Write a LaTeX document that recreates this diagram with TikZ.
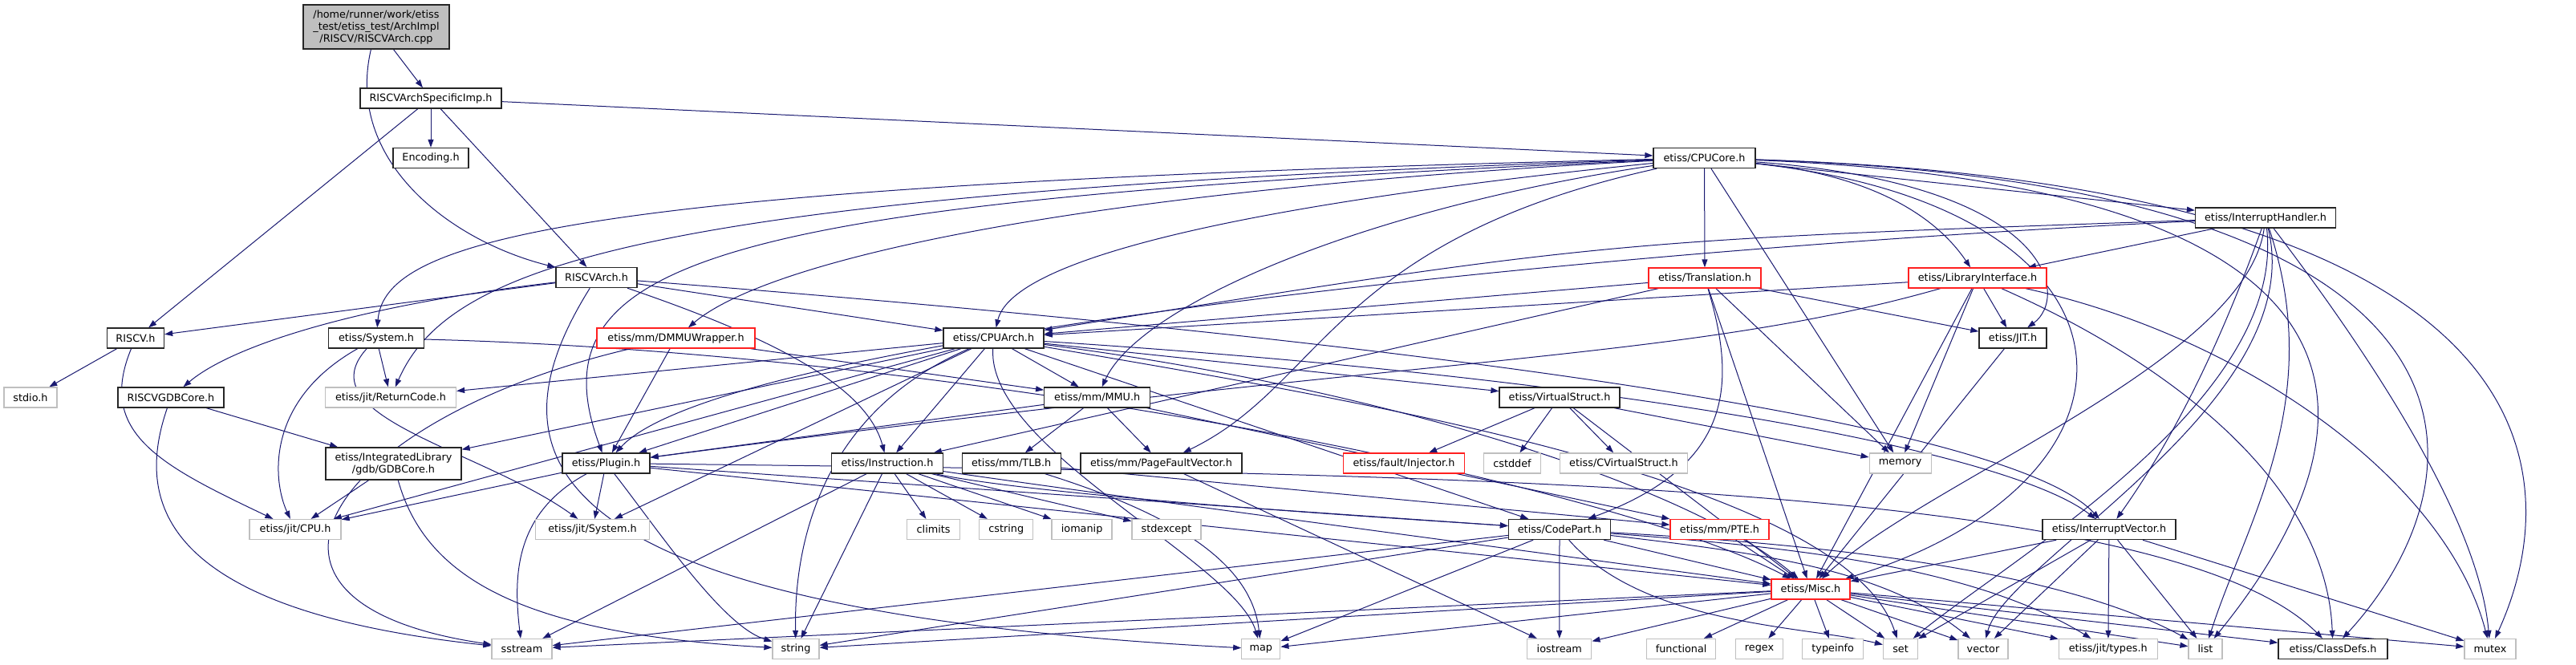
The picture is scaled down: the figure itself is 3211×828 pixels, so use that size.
\documentclass[tikz,border=0pt]{standalone}
\usepackage{fontspec}
\newfontfamily\dv{DejaVu Sans}
\usetikzlibrary{arrows.meta}
\definecolor{edgec}{HTML}{191970}
\definecolor{extc}{HTML}{BFBFBF}
\definecolor{truncc}{HTML}{FF2020}
\pgfdeclarelayer{bg}
\pgfsetlayers{bg,main}
\tikzset{
  box/.style={draw=black!85, line width=1.3pt, fill=white, inner sep=0pt, minimum height=25pt, font=\dv\fontsize{12.8}{15}\selectfont, align=center},
  ext/.style={box, draw=extc},
  trunc/.style={box, draw=truncc},
  e/.style={draw=edgec, line width=1pt, -{Triangle[length=10pt,width=7pt]}},
}
\begin{document}
\begin{tikzpicture}[x=1pt,y=-1pt]
\useasboundingbox (0,0) rectangle (3211,828);
% nodes
\node[box, fill=extc, minimum width=182pt, minimum height=55pt] (root) at (469,33.5) {/home/runner/work/etiss\\\_test/etiss\_test/ArchImpl\\/RISCV/RISCVArch.cpp};
\node[box, minimum width=176pt] (spec) at (537,122.5) {RISCVArchSpecificImp.h};
\node[box, minimum width=94pt] (enc) at (537,197) {Encoding.h};
\node[box, minimum width=127pt] (cpucore) at (2124.5,197) {etiss/CPUCore.h};
\node[box, minimum width=175pt] (ih) at (2824,271.5) {etiss/InterruptHandler.h};
\node[box, minimum width=101pt] (rarch) at (743.5,346) {RISCVArch.h};
\node[box, minimum width=71pt] (riscv) at (169,421.5) {RISCV.h};
\node[box, minimum width=119pt] (sys) at (469,421.5) {etiss/System.h};
\node[ext, minimum width=66pt] (stdio) at (38,495.5) {stdio.h};
\node[box, minimum width=132pt] (rgdb) at (213,495.5) {RISCVGDBCore.h};
\node[ext, minimum width=163pt] (retc) at (487,495.5) {etiss/jit/ReturnCode.h};
\node[trunc, minimum width=197pt] (dmmu) at (842.5,421.5) {etiss/mm/DMMUWrapper.h};
\node[box, minimum width=125pt] (cpuarch) at (1238.5,421.5) {etiss/CPUArch.h};
\node[box, minimum width=132pt] (mmu) at (1367.7,495.5) {etiss/mm/MMU.h};
\node[trunc, minimum width=140pt] (trans) at (2125,346.5) {etiss/Translation.h};
\node[box, minimum width=150pt] (vstruct) at (1944,495.5) {etiss/VirtualStruct.h};
\node[trunc, minimum width=172pt] (libif) at (2465,346.5) {etiss/LibraryInterface.h};
\node[box, minimum width=84pt] (jit) at (2509,421.5) {etiss/JIT.h};
\node[box, minimum width=169pt, minimum height=40pt] (gdbcore) at (490.5,578) {etiss/IntegratedLibrary\\/gdb/GDBCore.h};
\node[ext, minimum width=114pt] (jitcpu) at (368,660) {etiss/jit/CPU.h};
\node[box, minimum width=109pt] (plugin) at (755.5,577.5) {etiss/Plugin.h};
\node[ext, minimum width=142pt] (jitsys) at (738.5,660) {etiss/jit/System.h};
\node[ext, minimum width=75pt] (sstream) at (650.5,809) {sstream};
\node[box, minimum width=139pt] (instr) at (1106,577.5) {etiss/Instruction.h};
\node[box, minimum width=123pt] (tlb) at (1260.7,577.5) {etiss/mm/TLB.h};
\node[box, minimum width=201pt] (pfv) at (1447.5,577.5) {etiss/mm/PageFaultVector.h};
\node[ext, minimum width=66pt] (climits) at (1163.6,660) {climits};
\node[ext, minimum width=67pt] (cstring) at (1254.3,660) {cstring};
\node[ext, minimum width=75pt] (iomanip) at (1348.6,660) {iomanip};
\node[ext, minimum width=86pt] (stdexcept) at (1454,660) {stdexcept};
\node[ext, minimum width=58pt] (string) at (992,809) {string};
\node[ext, minimum width=48pt] (map) at (1571.8,809) {map};
\node[trunc, minimum width=151pt] (injector) at (1750,577.5) {etiss/fault/Injector.h};
\node[ext, minimum width=71pt] (cstddef) at (1885,577.5) {cstddef};
\node[ext, minimum width=159pt] (cvs) at (2024,577.5) {etiss/CVirtualStruct.h};
\node[ext, minimum width=77pt] (memory) at (2368.7,577.5) {memory};
\node[box, minimum width=127pt] (codepart) at (1944,660) {etiss/CodePart.h};
\node[trunc, minimum width=123pt] (pte) at (2143.5,660) {etiss/mm/PTE.h};
\node[trunc, minimum width=98pt] (misc) at (2257,734.5) {etiss/Misc.h};
\node[ext, minimum width=80pt] (iostream) at (1943.8,809) {iostream};
\node[ext, minimum width=86pt] (functional) at (2095.6,809) {functional};
\node[ext, minimum width=59pt] (regex) at (2193,809) {regex};
\node[ext, minimum width=76pt] (typeinfo) at (2284.7,809) {typeinfo};
\node[ext, minimum width=43pt] (set) at (2369,809) {set};
\node[box, minimum width=166pt] (ivec) at (2629,660) {etiss/InterruptVector.h};
\node[ext, minimum width=62pt] (vector) at (2472,809) {vector};
\node[ext, minimum width=123pt] (types) at (2627.8,809) {etiss/jit/types.h};
\node[ext, minimum width=42pt] (list) at (2749,809) {list};
\node[box, minimum width=136pt] (classdefs) at (2908,809) {etiss/ClassDefs.h};
\node[ext, minimum width=64pt] (mutex) at (3104,809) {mutex};
% edges
\begin{pgfonlayer}{bg}
\draw[e] (root) -- (spec);
\draw[e] (root) .. controls (430,200) and (560,300) .. (rarch);
\draw[e] (spec) -- (enc);
\draw[e] (spec) -- (cpucore);
\draw[e] (spec) -- (riscv);
\draw[e] (spec) -- (rarch);
% RISCVArch
\draw[e] (rarch) -- (riscv);
\draw[e] (rarch) .. controls (450,380) and (290,430) .. (rgdb);
\draw[e] (rarch) -- (cpuarch);
\draw[e] (rarch) .. controls (960,420) and (1080,480) .. (instr);
\draw[e] (rarch) .. controls (1700,420) and (2500,520) .. (ivec);
\draw[e] (rarch) .. controls (610,560) and (640,760) .. (map);
\draw[e] (riscv) -- (stdio);
\draw[e] (riscv) .. controls (120,540) and (200,580) .. (jitcpu);
\draw[e] (rgdb) -- (gdbcore);
\draw[e] (rgdb) .. controls (170,620) and (190,760) .. (sstream);
% CPUCore
\draw[e] (cpucore) .. controls (700,230) and (480,300) .. (sys);
\draw[e] (cpucore) .. controls (800,240) and (560,330) .. (retc);
\draw[e] (cpucore) .. controls (900,250) and (660,320) .. (plugin);
\draw[e] (cpucore) .. controls (1500,260) and (1260,330) .. (cpuarch);
\draw[e] (cpucore) .. controls (1300,240) and (950,330) .. (dmmu);
\draw[e] (cpucore) .. controls (1700,260) and (1420,380) .. (mmu);
\draw[e] (cpucore) .. controls (1660,300) and (1650,480) .. (pfv);
\draw[e] (cpucore) -- (trans);
\draw[e] (cpucore) -- (memory);
\draw[e] (cpucore) .. controls (2350,220) and (2420,280) .. (libif);
\draw[e] (cpucore) .. controls (2560,230) and (2580,370) .. (jit);
\draw[e] (cpucore) .. controls (2700,260) and (2700,600) .. (misc);
\draw[e] (cpucore) -- (ih);
\draw[e] (cpucore) .. controls (2950,230) and (3000,500) .. (list);
\draw[e] (cpucore) .. controls (3150,230) and (3100,600) .. (classdefs);
\draw[e] (cpucore) .. controls (3200,230) and (3200,600) .. (mutex);
% System
\draw[e] (sys) -- (retc);
\draw[e] (sys) .. controls (330,500) and (340,600) .. (jitcpu);
\draw[e] (sys) .. controls (380,520) and (600,560) .. (jitsys);
\draw[e] (sys) .. controls (1200,440) and (2000,600) .. (misc);
% DMMU
\draw[e] (dmmu) -- (mmu);
\draw[e] (dmmu) -- (plugin);
\draw[e] (dmmu) .. controls (420,520) and (250,750) .. (sstream);
% InterruptHandler
\draw[e] (ih) -- (libif);
\draw[e] (ih) .. controls (2000,300) .. (cpuarch);
\draw[e] (ih) .. controls (2000,310) and (900,420) .. (plugin);
\draw[e] (ih) .. controls (2760,450) and (2700,560) .. (ivec);
\draw[e] (ih) .. controls (2800,450) and (2400,600) .. (misc);
\draw[e] (ih) .. controls (2850,500) and (2500,700) .. (set);
\draw[e] (ih) .. controls (2880,500) and (2500,700) .. (vector);
\draw[e] (ih) .. controls (2900,500) and (2800,650) .. (list);
\draw[e] (ih) .. controls (2960,450) and (3090,650) .. (mutex);
% Translation
\draw[e] (trans) -- (cpuarch);
\draw[e] (trans) .. controls (2165,480) and (2160,580) .. (codepart);
\draw[e] (trans) -- (memory);
\draw[e] (trans) -- (jit);
\draw[e] (trans) -- (instr);
\draw[e] (trans) -- (misc);
% LibraryInterface
\draw[e] (libif) -- (cpuarch);
\draw[e] (libif) -- (jit);
\draw[e] (libif) -- (memory);
\draw[e] (libif) -- (misc);
\draw[e] (libif) .. controls (2700,450) and (2900,600) .. (classdefs);
\draw[e] (libif) .. controls (2800,420) and (3050,600) .. (mutex);
\draw[e] (libif) .. controls (2100,450) and (1800,440) .. (plugin);
\draw[e] (jit) -- (misc);
% CPUArch
\draw[e] (cpuarch) -- (retc);
\draw[e] (cpuarch) -- (gdbcore);
\draw[e] (cpuarch) -- (jitcpu);
\draw[e] (cpuarch) -- (plugin);
\draw[e] (cpuarch) -- (jitsys);
\draw[e] (cpuarch) -- (instr);
\draw[e] (cpuarch) -- (mmu);
\draw[e] (cpuarch) -- (vstruct);
\draw[e] (cpuarch) .. controls (2000,470) and (2500,560) .. (ivec);
\draw[e] (cpuarch) -- (codepart);
\draw[e] (cpuarch) .. controls (1700,480) and (2100,600) .. (misc);
\draw[e] (cpuarch) .. controls (1010,520) and (990,700) .. (string);
\draw[e] (cpuarch) .. controls (1230,560) and (1540,700) .. (map);
\draw[e] (cpuarch) .. controls (1700,500) and (2300,600) .. (set);
% MMU
\draw[e] (mmu) -- (plugin);
\draw[e] (mmu) -- (tlb);
\draw[e] (mmu) -- (pfv);
\draw[e] (mmu) -- (pte);
% GDBCore
\draw[e] (gdbcore) -- (jitcpu);
\draw[e] (gdbcore) .. controls (530,720) and (650,790) .. (string);
% Plugin
\draw[e] (plugin) -- (jitcpu);
\draw[e] (plugin) -- (jitsys);
\draw[e] (plugin) .. controls (640,640) and (640,720) .. (sstream);
\draw[e] (plugin) .. controls (820,660) and (900,780) .. (string);
\draw[e] (plugin) -- (codepart);
\draw[e] (plugin) -- (misc);
\draw[e] (plugin) .. controls (1800,590) and (2700,600) .. (classdefs);
% Instruction
\draw[e] (instr) -- (climits);
\draw[e] (instr) -- (cstring);
\draw[e] (instr) -- (iomanip);
\draw[e] (instr) -- (stdexcept);
\draw[e] (instr) -- (string);
\draw[e] (instr) -- (sstream);
\draw[e] (instr) .. controls (1300,620) and (1800,650) .. (codepart);
\draw[e] (instr) .. controls (1400,620) and (2000,700) .. (misc);
% TLB / PFV / PTE
\draw[e] (tlb) -- (pte);
\draw[e] (tlb) .. controls (1460,640) and (1560,700) .. (map);
\draw[e] (pfv) -- (iostream);
\draw[e] (pte) -- (misc);
% VirtualStruct
\draw[e] (vstruct) -- (injector);
\draw[e] (vstruct) -- (cstddef);
\draw[e] (vstruct) -- (cvs);
\draw[e] (vstruct) -- (memory);
\draw[e] (vstruct) -- (misc);
% CodePart
\draw[e] (codepart) -- (string);
\draw[e] (codepart) -- (sstream);
\draw[e] (codepart) -- (iostream);
\draw[e] (codepart) -- (map);
\draw[e] (codepart) .. controls (2050,780) and (2250,780) .. (set);
\draw[e] (codepart) -- (misc);
\draw[e] (codepart) .. controls (2200,690) and (2350,710) .. (vector);
\draw[e] (codepart) .. controls (2200,680) and (2450,700) .. (types);
\draw[e] (codepart) .. controls (2200,675) and (2550,700) .. (list);
% Misc
\draw[e] (misc) -- (iostream);
\draw[e] (misc) -- (functional);
\draw[e] (misc) -- (regex);
\draw[e] (misc) -- (typeinfo);
\draw[e] (misc) -- (set);
\draw[e] (misc) -- (vector);
\draw[e] (misc) -- (list);
\draw[e] (misc) -- (mutex);
\draw[e] (misc) -- (types);
\draw[e] (misc) -- (classdefs);
\draw[e] (misc) -- (string);
\draw[e] (misc) -- (sstream);
\draw[e] (misc) -- (map);
% InterruptVector
\draw[e] (ivec) -- (misc);
\draw[e] (ivec) -- (vector);
\draw[e] (ivec) -- (types);
\draw[e] (ivec) -- (list);
\draw[e] (ivec) -- (mutex);
\draw[e] (ivec) -- (set);
\end{pgfonlayer}
\end{tikzpicture}
\end{document}
